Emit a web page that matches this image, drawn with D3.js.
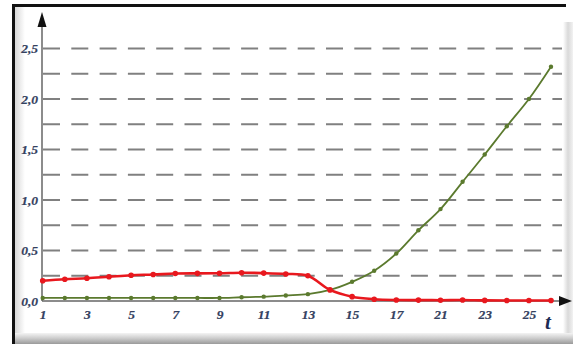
<!DOCTYPE html>
<html>
<head>
<meta charset="utf-8">
<script src="https://cdn.jsdelivr.net/npm/d3@7/dist/d3.min.js"></script>
<style>
  html, body { margin: 0; padding: 0; background: #fff; }
  svg { display: block; }
</style>
</head>
<body>
<svg id="chart" width="573" height="344"></svg>
<script>
// Sample index (one point per time step) and the two measured series
const steps = d3.range(24);
const redValues = [0.20, 0.215, 0.225, 0.24, 0.255, 0.262, 0.272, 0.274, 0.275, 0.28, 0.276, 0.268, 0.25,
                   0.11, 0.043, 0.018, 0.01, 0.009, 0.008, 0.01, 0.006, 0.005, 0.005, 0.005];
const greenValues = [0.03, 0.03, 0.03, 0.03, 0.03, 0.03, 0.03, 0.03, 0.03, 0.037, 0.043, 0.055, 0.068,
                     0.11, 0.19, 0.30, 0.47, 0.70, 0.91, 1.18, 1.45, 1.73, 2.0, 2.32];
// Axis labels
const xTickSteps = [0, 2, 4, 6, 8, 10, 12, 14, 16, 18, 20, 22];
const xTickLabels = ["1", "3", "5", "7", "9", "11", "13", "15", "17", "21", "23", "25"];
const yTickValues = [0, 0.5, 1.0, 1.5, 2.0, 2.5];
const yTickLabels = ["0,0", "0,5", "1,0", "1,5", "2,0", "2,5"];
const gridValues = d3.range(1, 11).map(i => i * 0.25);

const svg = d3.select("#chart");
const defs = svg.append("defs");

// --- frame with bevelled edges ---
const gRight = defs.append("linearGradient").attr("id", "bevelRight").attr("x1", 0).attr("x2", 1);
gRight.append("stop").attr("offset", 0).attr("stop-color", "#ffffff");
gRight.append("stop").attr("offset", 0.5).attr("stop-color", "#d9d9d9");
gRight.append("stop").attr("offset", 1).attr("stop-color", "#f2f2f2");
const gBottom = defs.append("linearGradient").attr("id", "bevelBottom").attr("x1", 0).attr("x2", 0).attr("y1", 0).attr("y2", 1);
gBottom.append("stop").attr("offset", 0).attr("stop-color", "#f4f4f4");
gBottom.append("stop").attr("offset", 0.45).attr("stop-color", "#cfcfcf");
gBottom.append("stop").attr("offset", 1).attr("stop-color", "#9a9a9a");
const gLeft = defs.append("linearGradient").attr("id", "bevelLeft").attr("x1", 0).attr("x2", 1);
gLeft.append("stop").attr("offset", 0).attr("stop-color", "#d8d8d8");
gLeft.append("stop").attr("offset", 1).attr("stop-color", "#ffffff");

svg.append("rect").attr("x", 15).attr("y", 7).attr("width", 10).attr("height", 328).attr("fill", "url(#bevelLeft)");
svg.append("rect").attr("x", 563).attr("y", 22).attr("width", 10).attr("height", 312).attr("fill", "url(#bevelRight)");
svg.append("rect").attr("x", 15).attr("y", 333).attr("width", 558).attr("height", 11).attr("fill", "url(#bevelBottom)");
svg.append("path")
  .attr("d", "M13.5,344 V5.5 H566")
  .attr("fill", "none").attr("stroke", "#111").attr("stroke-width", 3);

// --- scales ---
const x = d3.scaleLinear().domain([0, 23]).range([42.7, 551]);
const y = d3.scaleLinear().domain([0, 2.5]).range([301, 48.5]);

// --- dashed grid ---
svg.append("g").selectAll("line").data(gridValues).join("line")
  .attr("x1", 43).attr("x2", 562)
  .attr("y1", d => y(d)).attr("y2", d => y(d))
  .attr("stroke", "#808080").attr("stroke-width", 2)
  .attr("stroke-dasharray", "17,11.3");

// --- axes with arrows ---
const x0 = x(0) - 0.7;
svg.append("line").attr("x1", x0).attr("x2", x0).attr("y1", y(0)).attr("y2", 24)
  .attr("stroke", "#666").attr("stroke-width", 1.5);
svg.append("path").attr("d", `M${x0},12 L${x0 - 4.5},27 L${x0 + 4.5},27 Z`).attr("fill", "#111");
svg.append("line").attr("x1", x0).attr("x2", 561).attr("y1", y(0)).attr("y2", y(0))
  .attr("stroke", "#666").attr("stroke-width", 1.5);
svg.append("path").attr("d", `M572,${y(0)} L559,${y(0) - 5} L559,${y(0) + 5} Z`).attr("fill", "#111");

// --- tick labels (italic serif) ---
const labelColor = "#34415f";
const serif = "font-family:'Liberation Serif','Times New Roman',serif;font-style:italic;";
const yAxis = d3.axisLeft(y).tickValues(yTickValues)
  .tickFormat((d, i) => yTickLabels[i]).tickSize(0).tickPadding(4);
const gy = svg.append("g").attr("transform", `translate(${x0},0)`).call(yAxis);
gy.select(".domain").remove();
gy.selectAll("text").attr("style", serif + "font-size:13.5px;font-weight:bold")
  .attr("fill", labelColor).attr("stroke", labelColor).attr("stroke-width", 0.2);

const xAxis = d3.axisBottom(x).tickValues(xTickSteps)
  .tickFormat((d, i) => xTickLabels[i]).tickSize(0).tickPadding(8);
const gx = svg.append("g").attr("transform", `translate(0,${y(0)})`).call(xAxis);
gx.select(".domain").remove();
gx.selectAll("text").attr("style", serif + "font-size:13.5px;font-weight:bold")
  .attr("fill", labelColor).attr("stroke", labelColor).attr("stroke-width", 0.2);

svg.append("text").attr("style", serif + "font-size:21px;font-weight:bold")
  .attr("x", 548).attr("y", 329).attr("text-anchor", "middle")
  .attr("fill", "#1d2b55").text("t");

// --- series ---
const line = d3.line().x(d => x(d[0])).y(d => y(d[1])).curve(d3.curveCatmullRom.alpha(0.5));

function drawSeries(values, color, width, r) {
  const pts = steps.map((s, i) => [s, values[i]]);
  const g = svg.append("g");
  g.append("path").datum(pts).attr("d", line)
    .attr("fill", "none").attr("stroke", color).attr("stroke-width", width);
  g.selectAll("circle").data(pts).join("circle")
    .attr("cx", d => x(d[0])).attr("cy", d => y(d[1])).attr("r", r).attr("fill", color);
}
drawSeries(greenValues, "#5b7a2e", 1.8, 2.2);
drawSeries(redValues, "#e8181e", 2.6, 2.8);
</script>
</body>
</html>
